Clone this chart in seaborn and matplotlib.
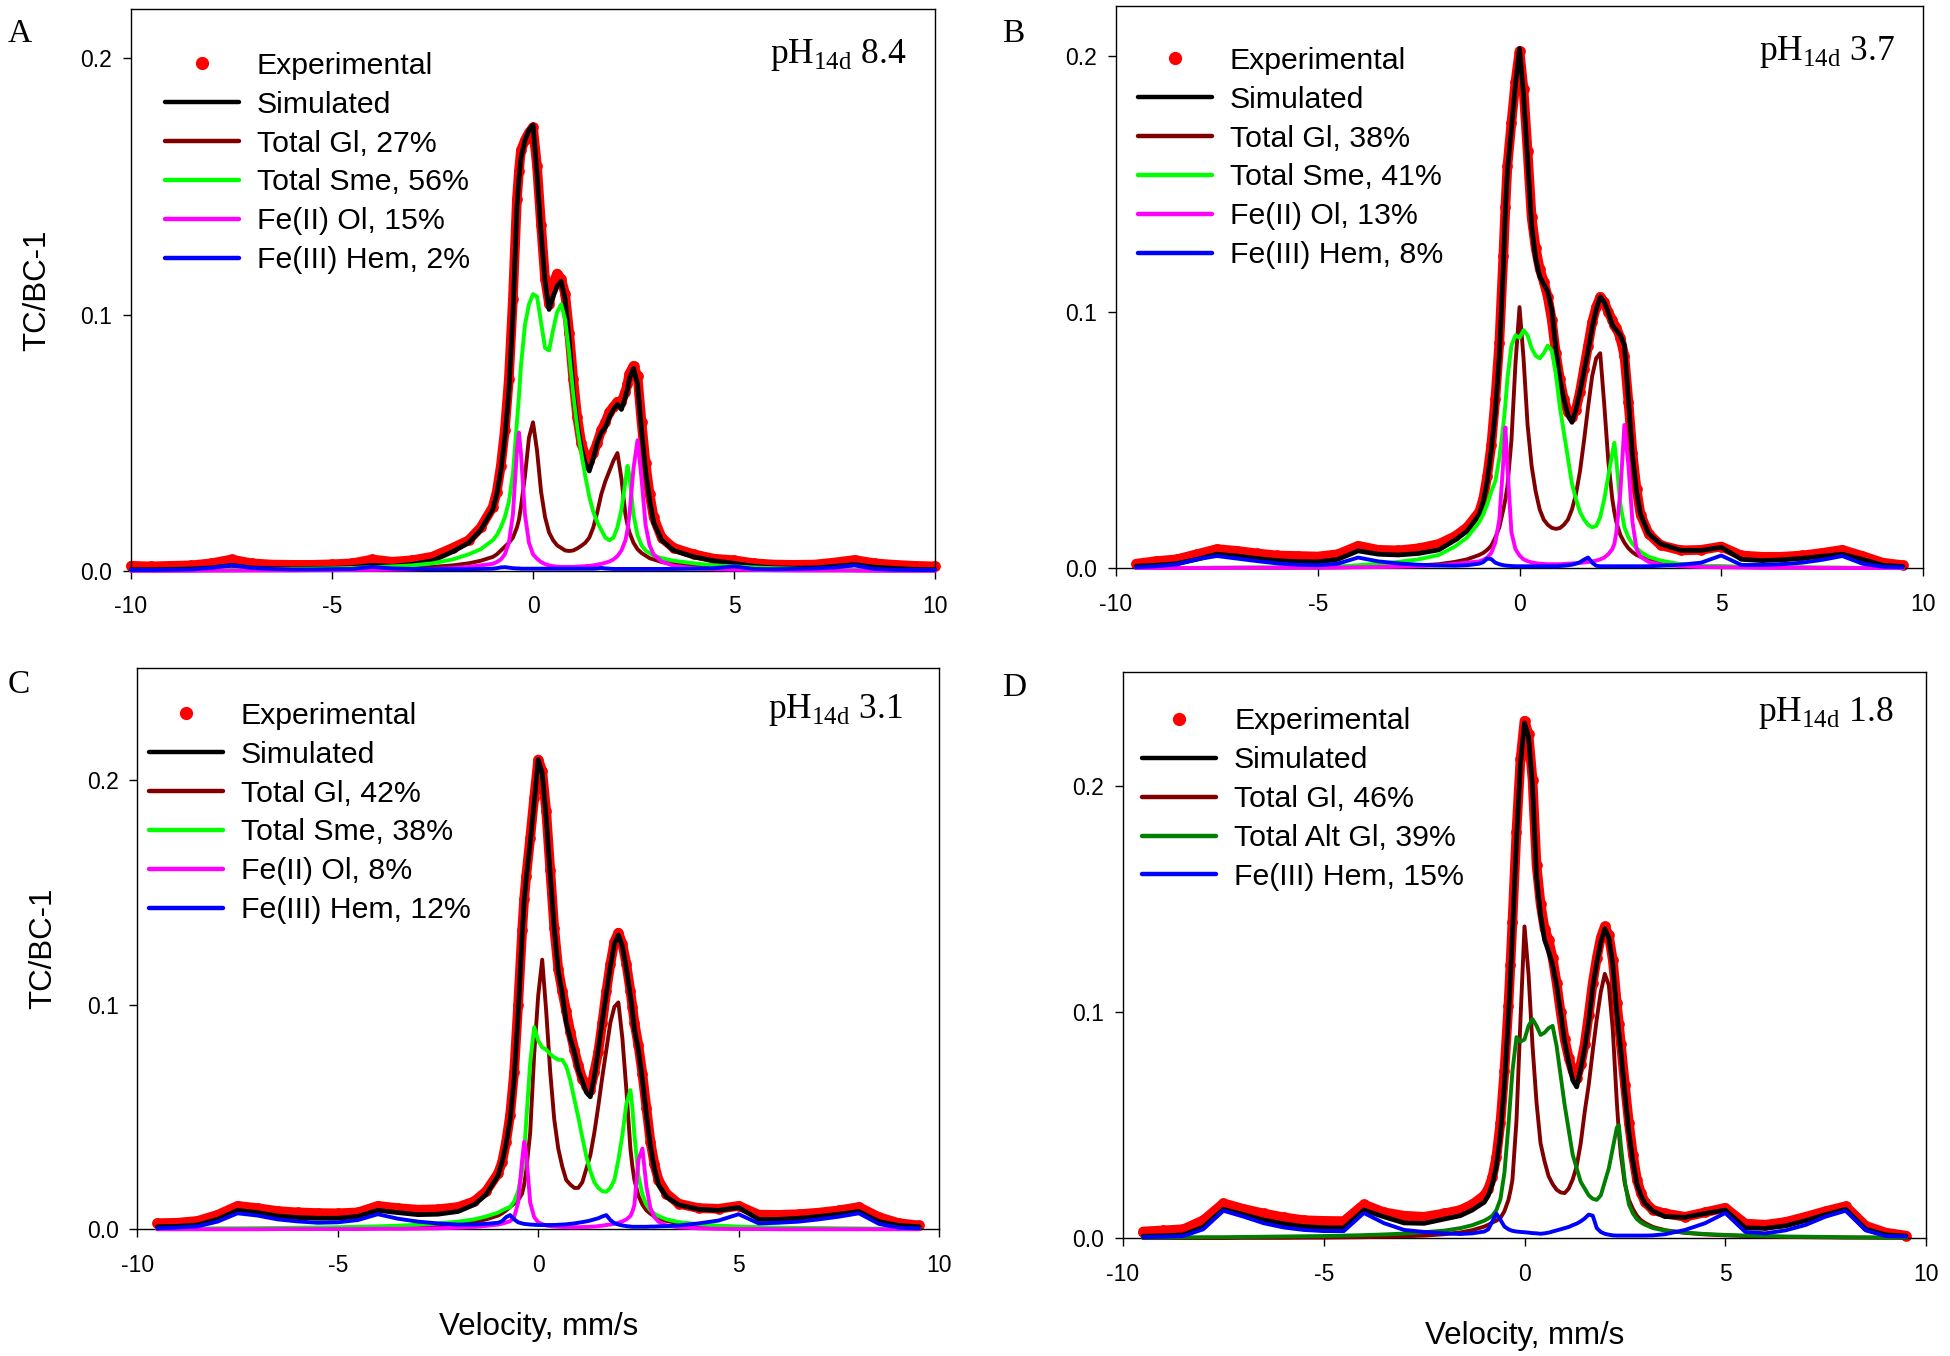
import matplotlib
matplotlib.use("Agg")
import matplotlib.pyplot as plt
from matplotlib.lines import Line2D
import pandas as pd
import seaborn as sns

# ---------------- data (velocity in mm/s, TC/BC-1) ----------------
velocity = [
    -9.5, -9.0, -8.5, -8.0, -7.5, -7.0, -6.5, -6.0, -5.5, -5.0, -4.5, -4.0, -3.5, -3.0, -2.5, -2.0, -1.6, -1.3,
    -1.0, -0.9, -0.8, -0.7, -0.6, -0.5, -0.4, -0.35, -0.3, -0.2, -0.1,
    0.0, 0.1, 0.2, 0.3, 0.4, 0.5, 0.6, 0.7, 0.8, 0.9,
    1.0, 1.1, 1.2, 1.3, 1.4, 1.5, 1.6, 1.7, 1.8, 1.9,
    2.0, 2.1, 2.2, 2.3, 2.35, 2.4, 2.5, 2.6, 2.7, 2.8, 2.9, 3.0,
    3.2, 3.5, 4.0, 4.5, 5.0, 5.5, 6.0, 6.5, 7.0, 7.5, 8.0, 8.5, 9.0, 9.5]
velocity_a = [-10.0] + velocity + [10.0]

# Panel A  (pH14d 8.4)
a_exp = [0.0020, 0.0018, 0.0020, 0.0022, 0.0030, 0.0045, 0.0030, 0.0025, 0.0024, 0.0024, 0.0026, 0.0030, 0.0045, 0.0036, 0.0042, 0.0056, 0.0090, 0.0120, 0.0170,
         0.025, 0.031, 0.041, 0.055, 0.075, 0.106, 0.145, 0.156, 0.164, 0.168, 0.171,
         0.173, 0.158, 0.135, 0.114, 0.104, 0.112, 0.116, 0.114, 0.108, 0.093,
         0.075, 0.060, 0.050, 0.045, 0.043, 0.046, 0.050, 0.055, 0.058, 0.062,
         0.064, 0.066, 0.066, 0.070, 0.073, 0.077, 0.080, 0.076, 0.058, 0.042, 0.030, 0.021,
         0.013, 0.009, 0.0065, 0.0048, 0.0042, 0.0030, 0.0025, 0.0024, 0.0025, 0.0033, 0.0043, 0.0030, 0.0024, 0.0020, 0.0018]
a_sim = [0.0005, 0.0005, 0.0006, 0.0008, 0.0012, 0.0022, 0.0012, 0.0009, 0.0008, 0.0009, 0.0010, 0.0013, 0.0022, 0.0018, 0.0026, 0.0040, 0.0075, 0.0110, 0.0160,
         0.024, 0.030, 0.039, 0.052, 0.070, 0.100, 0.142, 0.153, 0.161, 0.168, 0.172,
         0.174, 0.155, 0.132, 0.113, 0.102, 0.107, 0.111, 0.113, 0.106, 0.090,
         0.070, 0.057, 0.048, 0.042, 0.039, 0.044, 0.050, 0.054, 0.056, 0.060,
         0.063, 0.065, 0.063, 0.068, 0.071, 0.075, 0.079, 0.073, 0.055, 0.039, 0.028, 0.019,
         0.012, 0.008, 0.0055, 0.0040, 0.0030, 0.0018, 0.0012, 0.0011, 0.0012, 0.0018, 0.0025, 0.0015, 0.0010, 0.0006, 0.0005]
a_gl = [0.0002, 0.0002, 0.0002, 0.0003, 0.0003, 0.0003, 0.0004, 0.0004, 0.0005, 0.0005, 0.0006, 0.0007, 0.0008, 0.0010, 0.0012, 0.0016, 0.0022, 0.0030, 0.0040,
        0.0055, 0.0065, 0.0080, 0.0095, 0.011, 0.013, 0.017, 0.020, 0.025, 0.037, 0.052,
        0.058, 0.047, 0.031, 0.021, 0.015, 0.012, 0.010, 0.009, 0.008, 0.0078,
        0.0080, 0.0088, 0.0098, 0.011, 0.013, 0.017, 0.023, 0.030, 0.035, 0.039,
        0.043, 0.046, 0.036, 0.022, 0.018, 0.015, 0.011, 0.0085, 0.0070, 0.0060, 0.0050, 0.0045,
        0.0035, 0.0027, 0.0018, 0.0013, 0.0010, 0.0008, 0.0006, 0.0005, 0.0004, 0.0004, 0.0003, 0.0003, 0.0002, 0.0002, 0.0002]
a_sme = [0.0003, 0.0003, 0.0003, 0.0004, 0.0005, 0.0005, 0.0006, 0.0007, 0.0008, 0.0009, 0.0010, 0.0012, 0.0015, 0.0018, 0.0022, 0.0030, 0.0045, 0.0065, 0.0085,
         0.012, 0.014, 0.017, 0.021, 0.027, 0.038, 0.058, 0.068, 0.080, 0.096, 0.104,
         0.108, 0.107, 0.097, 0.087, 0.086, 0.094, 0.101, 0.104, 0.098, 0.085,
         0.069, 0.056, 0.046, 0.037, 0.029, 0.023, 0.019, 0.016, 0.013, 0.012,
         0.013, 0.017, 0.024, 0.035, 0.041, 0.037, 0.022, 0.014, 0.010, 0.008, 0.007, 0.006,
         0.0050, 0.0040, 0.0030, 0.0022, 0.0018, 0.0014, 0.0011, 0.0009, 0.0007, 0.0006, 0.0005, 0.0004, 0.0003, 0.0003, 0.0003]
a_ol = [0.0001, 0.0001, 0.0001, 0.0001, 0.0002, 0.0002, 0.0002, 0.0002, 0.0002, 0.0003, 0.0003, 0.0004, 0.0004, 0.0005, 0.0006, 0.0008, 0.0011, 0.0016, 0.0022,
        0.0028, 0.0035, 0.0045, 0.0065, 0.011, 0.022, 0.047, 0.054, 0.046, 0.022, 0.011,
        0.0065, 0.0048, 0.0035, 0.0027, 0.0022, 0.0019, 0.0017, 0.0016, 0.0016, 0.0016,
        0.0016, 0.0017, 0.0018, 0.0019, 0.0020, 0.0022, 0.0025, 0.0028, 0.0032, 0.0037,
        0.0045, 0.0058, 0.0080, 0.012, 0.016, 0.022, 0.040, 0.051, 0.036, 0.018, 0.010, 0.0065,
        0.0037, 0.0020, 0.0011, 0.0007, 0.0005, 0.0004, 0.0003, 0.0002, 0.0002, 0.0002, 0.0002, 0.0001, 0.0001, 0.0001, 0.0001]
a_hem = [0.0004, 0.0004, 0.0005, 0.0006, 0.0012, 0.0022, 0.0012, 0.0008, 0.0006, 0.0006, 0.0007, 0.0008, 0.0016, 0.0010, 0.0008, 0.0007, 0.0007, 0.0007, 0.0008,
         0.0009, 0.0011, 0.0014, 0.0015, 0.0013, 0.0011, 0.0010, 0.0010, 0.0009, 0.0009, 0.0009,
         0.0009, 0.0009, 0.0009, 0.0009, 0.0009, 0.0009, 0.0009, 0.0009, 0.0009, 0.0009,
         0.0009, 0.0009, 0.0009, 0.0009, 0.0009, 0.0009, 0.0010, 0.0012, 0.0010, 0.0009,
         0.0008, 0.0008, 0.0008, 0.0008, 0.0008, 0.0008, 0.0008, 0.0008, 0.0008, 0.0008, 0.0008, 0.0008,
         0.0008, 0.0008, 0.0009, 0.0011, 0.0018, 0.0008, 0.0007, 0.0008, 0.0010, 0.0014, 0.0022, 0.0008, 0.0005, 0.0004, 0.0004]

# Panel B  (pH14d 3.7)
b_exp = [0.0018, 0.0028, 0.0035, 0.0055, 0.0075, 0.0068, 0.0058, 0.0050, 0.0048, 0.0046, 0.0055, 0.0088, 0.0072, 0.0070, 0.0078, 0.0095, 0.0125, 0.0160,
         0.022, 0.027, 0.036, 0.048, 0.066, 0.088, 0.122, 0.141, 0.157, 0.174, 0.190,
         0.202, 0.187, 0.163, 0.137, 0.125, 0.117, 0.112, 0.106, 0.097, 0.084,
         0.074, 0.066, 0.061, 0.059, 0.062, 0.069, 0.078, 0.087, 0.096, 0.102,
         0.106, 0.104, 0.100, 0.097, 0.095, 0.094, 0.090, 0.083, 0.065, 0.045, 0.031, 0.021,
         0.0135, 0.0090, 0.0070, 0.0072, 0.0085, 0.0050, 0.0045, 0.0045, 0.0050, 0.0060, 0.0072, 0.0048, 0.0022, 0.0012]
b_sim = [0.0008, 0.0012, 0.0018, 0.0035, 0.0055, 0.0048, 0.0038, 0.0030, 0.0026, 0.0025, 0.0035, 0.0068, 0.0055, 0.0052, 0.0058, 0.0072, 0.0110, 0.0145,
         0.021, 0.026, 0.034, 0.046, 0.061, 0.083, 0.118, 0.140, 0.155, 0.172, 0.189,
         0.203, 0.185, 0.160, 0.134, 0.121, 0.114, 0.111, 0.108, 0.101, 0.086,
         0.074, 0.066, 0.060, 0.057, 0.062, 0.069, 0.077, 0.085, 0.094, 0.101,
         0.106, 0.104, 0.100, 0.095, 0.094, 0.093, 0.091, 0.087, 0.066, 0.044, 0.030, 0.021,
         0.0135, 0.0095, 0.0070, 0.0070, 0.0082, 0.0035, 0.0030, 0.0033, 0.0039, 0.0047, 0.0055, 0.0035, 0.0012, 0.0007]
b_gl = [0.0001, 0.0001, 0.0001, 0.0001, 0.0002, 0.0002, 0.0002, 0.0002, 0.0003, 0.0003, 0.0004, 0.0005, 0.0006, 0.0008, 0.0011, 0.0016, 0.0025, 0.0035,
        0.0052, 0.0060, 0.0072, 0.0088, 0.012, 0.016, 0.023, 0.027, 0.032, 0.050, 0.080,
        0.102, 0.082, 0.056, 0.040, 0.030, 0.023, 0.019, 0.017, 0.0158, 0.0154,
        0.0157, 0.017, 0.019, 0.023, 0.029, 0.038, 0.050, 0.063, 0.075, 0.082,
        0.084, 0.064, 0.042, 0.027, 0.022, 0.018, 0.013, 0.010, 0.0078, 0.0063, 0.0052, 0.0045,
        0.0034, 0.0024, 0.0015, 0.0010, 0.0007, 0.0005, 0.0004, 0.0003, 0.0003, 0.0002, 0.0002, 0.0001, 0.0001, 0.0001]
b_sme = [0.0001, 0.0001, 0.0001, 0.0002, 0.0002, 0.0002, 0.0003, 0.0003, 0.0004, 0.0005, 0.0007, 0.0012, 0.0018, 0.0025, 0.0035, 0.0052, 0.0085, 0.012,
         0.018, 0.021, 0.025, 0.030, 0.034, 0.043, 0.056, 0.064, 0.074, 0.087, 0.091,
         0.090, 0.093, 0.091, 0.086, 0.083, 0.082, 0.084, 0.087, 0.085, 0.076,
         0.063, 0.053, 0.043, 0.033, 0.027, 0.022, 0.019, 0.017, 0.016, 0.0165,
         0.020, 0.027, 0.036, 0.045, 0.049, 0.042, 0.025, 0.016, 0.012, 0.0095, 0.0080, 0.0065,
         0.0045, 0.0030, 0.0016, 0.0010, 0.0008, 0.0006, 0.0005, 0.0004, 0.0003, 0.0003, 0.0002, 0.0002, 0.0001, 0.0001]
b_ol = [0.0001, 0.0001, 0.0001, 0.0001, 0.0001, 0.0002, 0.0002, 0.0002, 0.0002, 0.0003, 0.0003, 0.0004, 0.0005, 0.0006, 0.0008, 0.0012, 0.0017, 0.0022,
        0.0027, 0.0033, 0.0042, 0.0060, 0.010, 0.019, 0.042, 0.055, 0.040, 0.014, 0.0075,
        0.0050, 0.0035, 0.0028, 0.0023, 0.0020, 0.0018, 0.0017, 0.0016, 0.0016, 0.0016,
        0.0016, 0.0017, 0.0018, 0.0019, 0.0020, 0.0021, 0.0023, 0.0025, 0.0027, 0.0030,
        0.0035, 0.0042, 0.0055, 0.0075, 0.0095, 0.014, 0.030, 0.056, 0.040, 0.018, 0.0075, 0.0045,
        0.0025, 0.0014, 0.0008, 0.0005, 0.0004, 0.0003, 0.0002, 0.0002, 0.0002, 0.0001, 0.0001, 0.0001, 0.0001, 0.0001]
b_hem = [0.0004, 0.0008, 0.0015, 0.0035, 0.0048, 0.0038, 0.0028, 0.0019, 0.0014, 0.0012, 0.0018, 0.0042, 0.0027, 0.0019, 0.0014, 0.0011, 0.0010, 0.0012,
         0.0018, 0.0024, 0.0038, 0.0036, 0.0022, 0.0016, 0.0012, 0.0011, 0.0010, 0.0009, 0.0008,
         0.0008, 0.0008, 0.0008, 0.0008, 0.0008, 0.0008, 0.0008, 0.0008, 0.0008, 0.0008,
         0.0009, 0.0010, 0.0012, 0.0014, 0.0018, 0.0024, 0.0034, 0.0042, 0.0022, 0.0010,
         0.0008, 0.0008, 0.0008, 0.0008, 0.0008, 0.0008, 0.0008, 0.0008, 0.0008, 0.0008, 0.0008, 0.0008,
         0.0008, 0.0010, 0.0014, 0.0022, 0.0050, 0.0013, 0.0013, 0.0016, 0.0022, 0.0033, 0.0048, 0.0018, 0.0006, 0.0004]

# Panel C  (pH14d 3.1)
c_exp = [0.0028, 0.0030, 0.0038, 0.0065, 0.0105, 0.0095, 0.0082, 0.0076, 0.0073, 0.0072, 0.0076, 0.0105, 0.0095, 0.0088, 0.0090, 0.0100, 0.0125, 0.0170,
         0.025, 0.030, 0.039, 0.051, 0.070, 0.100, 0.133, 0.147, 0.157, 0.174, 0.192,
         0.209, 0.204, 0.186, 0.160, 0.134, 0.116, 0.106, 0.097, 0.088, 0.080,
         0.073, 0.067, 0.064, 0.062, 0.070, 0.079, 0.092, 0.106, 0.118, 0.128,
         0.132, 0.127, 0.118, 0.106, 0.099, 0.092, 0.082, 0.069, 0.054, 0.039, 0.029, 0.022,
         0.016, 0.0115, 0.0095, 0.0092, 0.0105, 0.0066, 0.0065, 0.0068, 0.0075, 0.0085, 0.0100, 0.0055, 0.0028, 0.0018]
c_sim = [0.0012, 0.0014, 0.0020, 0.0045, 0.0085, 0.0075, 0.0060, 0.0053, 0.0050, 0.0050, 0.0058, 0.0085, 0.0075, 0.0066, 0.0068, 0.0080, 0.0110, 0.0155,
         0.024, 0.030, 0.038, 0.049, 0.067, 0.096, 0.131, 0.146, 0.156, 0.172, 0.190,
         0.209, 0.203, 0.183, 0.158, 0.134, 0.115, 0.105, 0.092, 0.085, 0.079,
         0.071, 0.066, 0.061, 0.059, 0.068, 0.080, 0.093, 0.105, 0.117, 0.127,
         0.131, 0.126, 0.116, 0.104, 0.097, 0.089, 0.080, 0.0665, 0.051, 0.037, 0.027, 0.020,
         0.0145, 0.0110, 0.0090, 0.0085, 0.0098, 0.0045, 0.0045, 0.0050, 0.0058, 0.0068, 0.0080, 0.0035, 0.0018, 0.0012]
c_gl = [0.0002, 0.0002, 0.0002, 0.0003, 0.0003, 0.0003, 0.0004, 0.0004, 0.0005, 0.0006, 0.0007, 0.0008, 0.0010, 0.0013, 0.0017, 0.0024, 0.0033, 0.0045,
        0.0062, 0.0072, 0.0085, 0.0100, 0.0115, 0.013, 0.016, 0.020, 0.026, 0.043, 0.078,
        0.104, 0.120, 0.097, 0.070, 0.049, 0.036, 0.028, 0.022, 0.020, 0.0185,
        0.0185, 0.021, 0.027, 0.033, 0.043, 0.055, 0.068, 0.080, 0.092, 0.099,
        0.101, 0.085, 0.062, 0.036, 0.028, 0.022, 0.015, 0.011, 0.0085, 0.0070, 0.0058, 0.0050,
        0.0038, 0.0028, 0.0019, 0.0013, 0.0010, 0.0008, 0.0006, 0.0005, 0.0004, 0.0003, 0.0003, 0.0002, 0.0002, 0.0002]
c_sme = [0.0003, 0.0003, 0.0004, 0.0005, 0.0005, 0.0006, 0.0007, 0.0008, 0.0009, 0.0010, 0.0012, 0.0014, 0.0017, 0.0021, 0.0027, 0.0035, 0.0045, 0.0058,
         0.0075, 0.0085, 0.0093, 0.0100, 0.0125, 0.017, 0.026, 0.034, 0.048, 0.074, 0.090,
         0.084, 0.081, 0.080, 0.078, 0.0765, 0.0755, 0.0755, 0.0725, 0.0665, 0.058,
         0.050, 0.041, 0.0325, 0.026, 0.021, 0.0185, 0.017, 0.0168, 0.0185, 0.022,
         0.031, 0.042, 0.056, 0.062, 0.054, 0.042, 0.024, 0.0155, 0.011, 0.0085, 0.0070, 0.0060,
         0.0045, 0.0033, 0.0023, 0.0017, 0.0013, 0.0010, 0.0008, 0.0007, 0.0006, 0.0005, 0.0004, 0.0004, 0.0003, 0.0003]
c_ol = [0.0001, 0.0001, 0.0001, 0.0001, 0.0001, 0.0001, 0.0002, 0.0002, 0.0002, 0.0002, 0.0002, 0.0003, 0.0003, 0.0004, 0.0005, 0.0008, 0.0011, 0.0016,
        0.0022, 0.0026, 0.0031, 0.0037, 0.0055, 0.012, 0.031, 0.039, 0.034, 0.012, 0.0055,
        0.0032, 0.0024, 0.0018, 0.0015, 0.0013, 0.0012, 0.0011, 0.0010, 0.0010, 0.0010,
        0.0010, 0.0011, 0.0011, 0.0012, 0.0013, 0.0015, 0.0017, 0.0020, 0.0022, 0.0026,
        0.0030, 0.0036, 0.0045, 0.0060, 0.0080, 0.011, 0.031, 0.036, 0.019, 0.0095, 0.0055, 0.0035,
        0.0018, 0.0010, 0.0005, 0.0003, 0.0002, 0.0002, 0.0001, 0.0001, 0.0001, 0.0001, 0.0001, 0.0001, 0.0001, 0.0001]
c_hem = [0.0005, 0.0009, 0.0014, 0.0035, 0.0072, 0.0062, 0.0045, 0.0036, 0.0030, 0.0032, 0.0042, 0.0068, 0.0048, 0.0035, 0.0027, 0.0022, 0.0022, 0.0025,
         0.0030, 0.0037, 0.0055, 0.0064, 0.0045, 0.0032, 0.0027, 0.0025, 0.0024, 0.0022, 0.0021,
         0.0020, 0.0020, 0.0020, 0.0020, 0.0020, 0.0021, 0.0022, 0.0023, 0.0025, 0.0027,
         0.0030, 0.0033, 0.0036, 0.0040, 0.0045, 0.0050, 0.0058, 0.0064, 0.0042, 0.0028,
         0.0022, 0.0018, 0.0015, 0.0013, 0.0012, 0.0012, 0.0012, 0.0012, 0.0012, 0.0013, 0.0013, 0.0014,
         0.0015, 0.0018, 0.0027, 0.0040, 0.0068, 0.0027, 0.0030, 0.0035, 0.0045, 0.0057, 0.0072, 0.0025, 0.0008, 0.0005]

# Panel D  (pH14d 1.8)
d_exp = [0.0030, 0.0035, 0.0040, 0.0080, 0.0155, 0.0130, 0.0110, 0.0093, 0.0080, 0.0077, 0.0076, 0.0150, 0.0115, 0.0100, 0.0095, 0.0110, 0.0125, 0.0150,
         0.019, 0.022, 0.027, 0.036, 0.051, 0.074, 0.103, 0.121, 0.140, 0.180, 0.212,
         0.229, 0.223, 0.203, 0.165, 0.148, 0.137, 0.132, 0.124, 0.113, 0.100,
         0.088, 0.080, 0.074, 0.071, 0.077, 0.086, 0.099, 0.113, 0.124, 0.133,
         0.138, 0.134, 0.123, 0.104, 0.095, 0.086, 0.068, 0.051, 0.037, 0.026, 0.020, 0.016,
         0.0125, 0.0110, 0.0095, 0.0115, 0.0135, 0.0065, 0.0060, 0.0072, 0.0095, 0.0120, 0.0142, 0.0055, 0.0025, 0.0012]
d_sim = [0.0009, 0.0011, 0.0015, 0.0050, 0.0128, 0.0105, 0.0081, 0.0064, 0.0052, 0.0047, 0.0046, 0.0125, 0.0095, 0.0068, 0.0066, 0.0085, 0.0100, 0.0125,
         0.016, 0.019, 0.024, 0.032, 0.046, 0.068, 0.098, 0.116, 0.135, 0.176, 0.210,
         0.228, 0.222, 0.200, 0.160, 0.143, 0.132, 0.127, 0.121, 0.112, 0.100,
         0.087, 0.078, 0.070, 0.067, 0.075, 0.084, 0.096, 0.111, 0.122, 0.131,
         0.137, 0.133, 0.121, 0.100, 0.091, 0.083, 0.064, 0.047, 0.034, 0.024, 0.019, 0.0155,
         0.0120, 0.0096, 0.0093, 0.0110, 0.0125, 0.0046, 0.0044, 0.0055, 0.0078, 0.0105, 0.0128, 0.0040, 0.0015, 0.0010]
d_gl = [0.0001, 0.0001, 0.0001, 0.0001, 0.0001, 0.0002, 0.0002, 0.0002, 0.0003, 0.0003, 0.0004, 0.0005, 0.0007, 0.0009, 0.0012, 0.0018, 0.0026, 0.0036,
        0.0052, 0.0060, 0.0070, 0.0078, 0.0090, 0.012, 0.017, 0.021, 0.026, 0.052, 0.097,
        0.138, 0.117, 0.085, 0.060, 0.042, 0.034, 0.0275, 0.024, 0.0215, 0.0203,
        0.0200, 0.022, 0.026, 0.032, 0.042, 0.056, 0.068, 0.083, 0.097, 0.109,
        0.117, 0.112, 0.092, 0.060, 0.047, 0.037, 0.024, 0.017, 0.013, 0.0100, 0.0080, 0.0068,
        0.0050, 0.0036, 0.0024, 0.0017, 0.0013, 0.0010, 0.0008, 0.0006, 0.0005, 0.0004, 0.0003, 0.0003, 0.0002, 0.0002]
d_altgl = [0.0003, 0.0003, 0.0004, 0.0005, 0.0005, 0.0006, 0.0007, 0.0008, 0.0009, 0.0010, 0.0012, 0.0014, 0.0017, 0.0021, 0.0027, 0.0034, 0.0045, 0.0058,
           0.0078, 0.0088, 0.0100, 0.0125, 0.0173, 0.029, 0.050, 0.062, 0.074, 0.089, 0.087,
           0.088, 0.094, 0.097, 0.094, 0.090, 0.091, 0.093, 0.094, 0.085, 0.072,
           0.059, 0.048, 0.037, 0.031, 0.025, 0.022, 0.019, 0.0175, 0.017, 0.019,
           0.025, 0.031, 0.040, 0.049, 0.050, 0.041, 0.025, 0.015, 0.011, 0.0085, 0.0070, 0.0060,
           0.0045, 0.0034, 0.0025, 0.0019, 0.0015, 0.0012, 0.0010, 0.0008, 0.0007, 0.0006, 0.0005, 0.0004, 0.0003, 0.0003]
d_hem = [0.0005, 0.0007, 0.0010, 0.0040, 0.0122, 0.0096, 0.0067, 0.0048, 0.0037, 0.0032, 0.0032, 0.0112, 0.0067, 0.0037, 0.0028, 0.0022, 0.0019, 0.0022,
         0.0030, 0.0040, 0.0075, 0.0109, 0.0082, 0.0052, 0.0040, 0.0036, 0.0033, 0.0030, 0.0028,
         0.0027, 0.0025, 0.0023, 0.0022, 0.0020, 0.0022, 0.0025, 0.0030, 0.0035, 0.0040,
         0.0045, 0.0050, 0.0058, 0.0065, 0.0075, 0.0088, 0.0105, 0.0100, 0.0045, 0.0028,
         0.0020, 0.0016, 0.0013, 0.0012, 0.0012, 0.0012, 0.0012, 0.0012, 0.0012, 0.0012, 0.0012, 0.0012,
         0.0013, 0.0018, 0.0037, 0.0067, 0.0112, 0.0028, 0.0022, 0.0035, 0.0059, 0.0096, 0.0122, 0.0035, 0.0010, 0.0008]

labels_a = ["Experimental", "Simulated", "Total Gl, 27%", "Total Sme, 56%", "Fe(II) Ol, 15%", "Fe(III) Hem, 2%"]
labels_b = ["Experimental", "Simulated", "Total Gl, 38%", "Total Sme, 41%", "Fe(II) Ol, 13%", "Fe(III) Hem, 8%"]
labels_c = ["Experimental", "Simulated", "Total Gl, 42%", "Total Sme, 38%", "Fe(II) Ol, 8%", "Fe(III) Hem, 12%"]
labels_d = ["Experimental", "Simulated", "Total Gl, 46%", "Total Alt Gl, 39%", "Fe(III) Hem, 15%"]
ph_values = ["8.4", "3.7", "3.1", "1.8"]
panel_letters = ["A", "B", "C", "D"]
x_ticks = [-10, -5, 0, 5, 10]
y_ticks = [0.0, 0.1, 0.2]

# ---------------- style ----------------
sns.set_theme(style="white")
plt.rcParams["font.family"] = ["Liberation Sans", "DejaVu Sans"]
plt.rcParams["axes.unicode_minus"] = False
plt.rcParams["mathtext.fontset"] = "custom"
plt.rcParams["mathtext.rm"] = "Liberation Serif"
plt.rcParams["text.color"] = "black"
plt.rcParams["axes.labelcolor"] = "black"
plt.rcParams["xtick.color"] = "black"
plt.rcParams["ytick.color"] = "black"
plt.rcParams["axes.edgecolor"] = "black"
plt.rcParams["axes.linewidth"] = 1.0

RED, BLACK, BROWN, LIME, MAGENTA, BLUE, DGREEN = "#FF0000", "#000000", "#800000", "#00FF00", "#FF00FF", "#0000FF", "#008000"
SERIF = ["Liberation Serif", "DejaVu Serif"]
LW_SIM, LW_COMP = 3.4, 2.8

fig = plt.figure(figsize=(19.5, 13.56), dpi=100)

panels = [
    dict(rect=[0.06718, 0.57891, 0.41231, 0.41468], x=velocity_a, exp=a_exp,
         comps=[(a_sim, BLACK), (a_gl, BROWN), (a_sme, LIME), (a_ol, MAGENTA), (a_hem, BLUE)],
         labels=labels_a, ytop=0.2193, leg=(0.042, 0.9235), ph=(0.964, 0.9026), letter=(0.004, 0.969), ylab=True, xlab=False),
    dict(rect=[0.57231, 0.58090, 0.41385, 0.41468], x=velocity, exp=b_exp,
         comps=[(b_sim, BLACK), (b_gl, BROWN), (b_sme, LIME), (b_ol, MAGENTA), (b_hem, BLUE)],
         labels=labels_b, ytop=0.2196, leg=(0.027, 0.9275), ph=(0.965, 0.904), letter=(0.514, 0.969), ylab=False, xlab=False),
    dict(rect=[0.07041, 0.09329, 0.41118, 0.41423], x=velocity, exp=c_exp,
         comps=[(c_sim, BLACK), (c_gl, BROWN), (c_sme, LIME), (c_ol, MAGENTA), (c_hem, BLUE)],
         labels=labels_c, ytop=0.2498, leg=(0.0146, 0.9395), ph=(0.955, 0.911), letter=(0.004, 0.489), ylab=True, xlab=True),
    dict(rect=[0.57590, 0.08680, 0.41179, 0.41799], x=velocity, exp=d_exp,
         comps=[(d_sim, BLACK), (d_gl, BROWN), (d_altgl, DGREEN), (d_hem, BLUE)],
         labels=labels_d, ytop=0.2508, leg=(0.024, 0.9365), ph=(0.960, 0.913), letter=(0.514, 0.4864), ylab=False, xlab=True),
]


def draw_line(ax, x, y, color, lw, z):
    df = pd.DataFrame({"velocity": x, "value": y})
    sns.lineplot(data=df, x="velocity", y="value", ax=ax, color=color, linewidth=lw,
                 estimator=None, sort=False, legend=False, zorder=z)
    ax.lines[-1].set_clip_on(False)
    ax.lines[-1].set_solid_joinstyle("round")


for i, p in enumerate(panels):
    ax = fig.add_axes(p["rect"])
    x = p["x"]
    assert len(p["exp"]) == len(x)
    # experimental data: dense red points
    draw_line(ax, x, p["exp"], RED, 7.0, 1)
    df_exp = pd.DataFrame({"velocity": x, "value": p["exp"]})
    sns.scatterplot(data=df_exp, x="velocity", y="value", ax=ax, color=RED, s=60,
                    linewidth=0, legend=False, zorder=1.5, clip_on=False)
    for k, (series, color) in enumerate(p["comps"]):
        assert len(series) == len(x)
        draw_line(ax, x, series, color, LW_SIM if k == 0 else LW_COMP, 3 + k)

    ax.set_xlim(-10, 10)
    ax.set_ylim(0, p["ytop"])
    ax.set_xticks(x_ticks)
    ax.set_xticklabels([str(t) for t in x_ticks])
    ax.set_yticks(y_ticks)
    ax.set_yticklabels(["%.1f" % t for t in y_ticks])
    ax.tick_params(axis="both", which="major", direction="out", length=5.5, width=1.0,
                   labelsize=16.5, bottom=True, left=True, top=False, right=False)
    ax.tick_params(axis="x", pad=12)
    ax.tick_params(axis="y", pad=8)
    for sp in ax.spines.values():
        sp.set_visible(True)
        sp.set_color("black")
        sp.set_linewidth(1.0)

    if p["ylab"]:
        ax.set_ylabel("TC/BC-1", fontsize=22.5)
        ax.yaxis.set_label_coords(-0.098, 0.5)
    else:
        ax.set_ylabel("")
    if p["xlab"]:
        ax.set_xlabel("Velocity, mm/s", fontsize=22.5)
        ax.xaxis.set_label_coords(0.5, -0.146)
    else:
        ax.set_xlabel("")

    # legend
    handles = [Line2D([], [], color=RED, marker="o", linestyle="None", markersize=8.5)]
    for series, color in p["comps"]:
        handles.append(Line2D([], [], color=color, linewidth=3.2))
    ax.legend(handles, p["labels"], loc="upper left", bbox_to_anchor=p["leg"],
              bbox_transform=ax.transAxes, frameon=False, fontsize=21.8,
              handlelength=2.45, handletextpad=0.58, labelspacing=0.36,
              borderaxespad=0, borderpad=0)

    ax.text(p["ph"][0], p["ph"][1], r"pH$_{\mathregular{14d}}$ " + ph_values[i],
            transform=ax.transAxes, ha="right", va="baseline", fontsize=25.5, family=SERIF)
    fig.text(p["letter"][0], p["letter"][1], panel_letters[i], ha="left", va="baseline",
             fontsize=24, family=SERIF)

fig.savefig("out.png", dpi=100, facecolor="white")
